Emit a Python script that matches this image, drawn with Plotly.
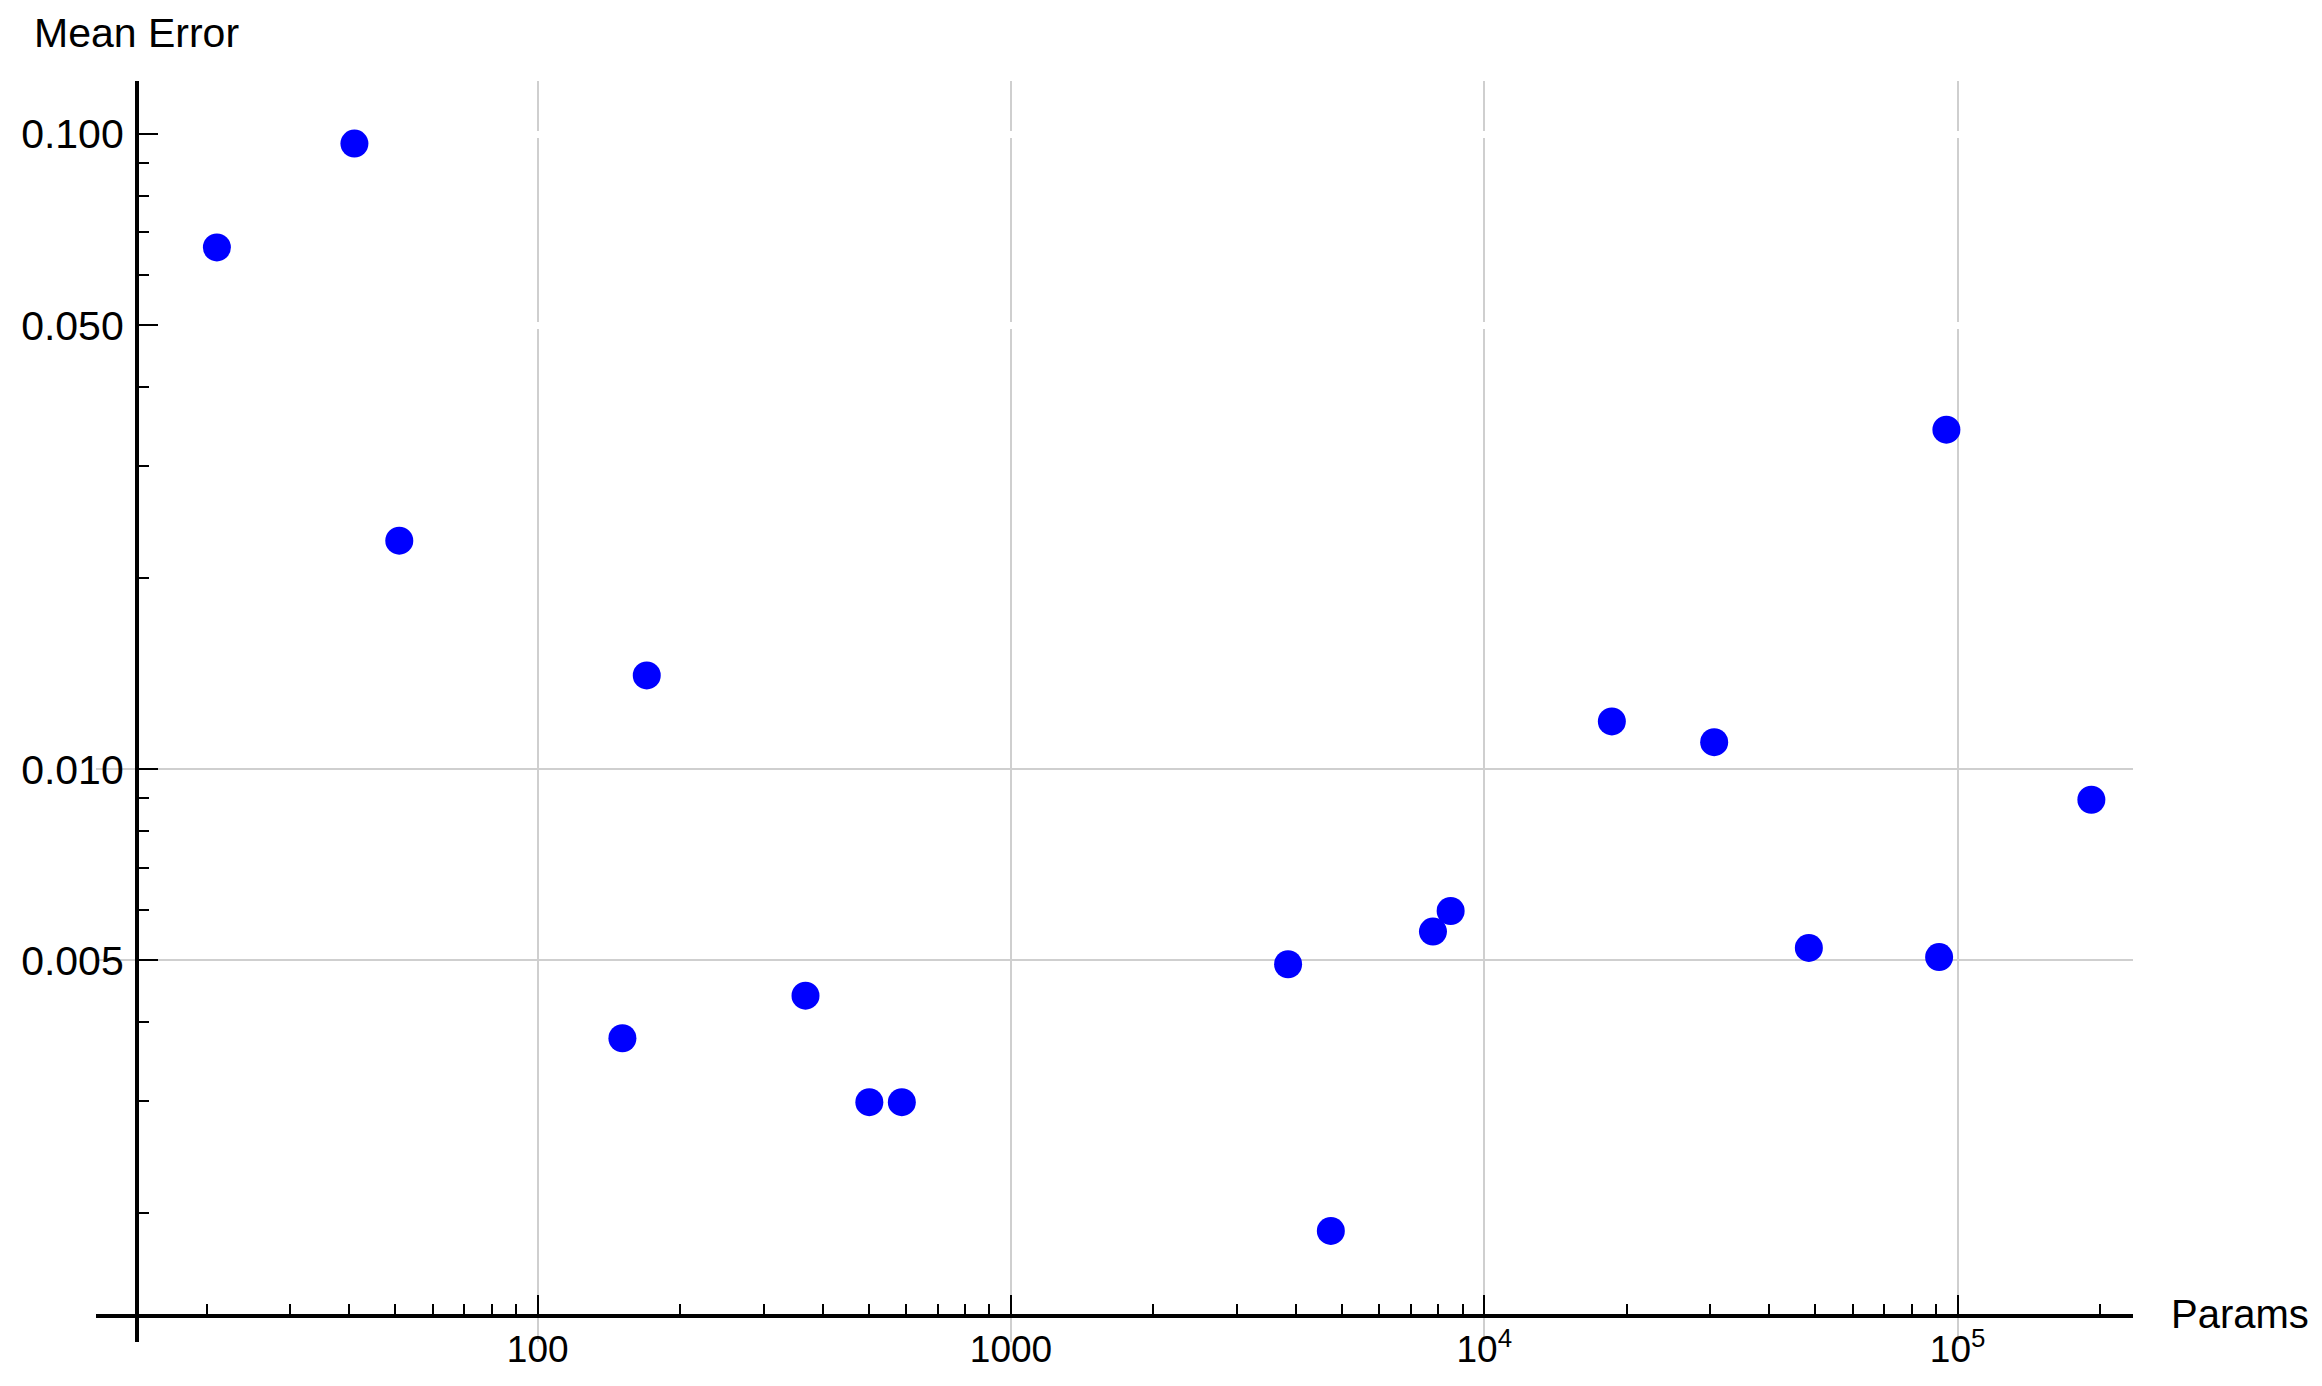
import plotly.graph_objects as go

# Data
params = [21, 41, 51, 170, 151, 368, 502, 588, 3850, 4740, 7790, 8490,
          18600, 30600, 48500, 91400, 94700, 191700]
mean_error = [0.0663, 0.0966, 0.0229, 0.01405, 0.00377, 0.00440, 0.00299, 0.00299,
              0.00493, 0.001875, 0.00555, 0.00598, 0.01189, 0.01103, 0.00523,
              0.00506, 0.03424, 0.00895]

x_tickvals = [100, 1000, 10000, 100000]
x_ticktext = ["100", "1000", "10<sup>4</sup>", "10<sup>5</sup>"]
y_tickvals = [0.1, 0.05, 0.01, 0.005]
y_ticktext = ["0.100", "0.050", "0.010", "0.005"]
y_white_grid = [0.1, 0.05]   # levels where the grid shows as white gaps

FONT = "Liberation Sans, Arial, sans-serif"

fig = go.Figure()
fig.add_trace(go.Scatter(
    x=params, y=mean_error, mode="markers",
    marker=dict(size=28, color="#0000ff", line=dict(width=0)),
    showlegend=False, hoverinfo="x+y",
))
# invisible helper trace so the overlay y axis (white grid gaps) is drawn
fig.add_trace(go.Scatter(x=[], y=[], yaxis="y2", showlegend=False, hoverinfo="skip"))

W, H = 2322, 1386
L, R, T, B = 96, 2322 - 2133, 81, 1386 - 1342
YRANGE = [-2.9019, -0.9165]

fig.update_layout(
    width=W, height=H,
    margin=dict(l=L, r=R, t=T, b=B, autoexpand=False),
    paper_bgcolor="white", plot_bgcolor="white",
    font=dict(family=FONT, size=40, color="black"),
    xaxis=dict(
        type="log", range=[1.0668, 5.3706],
        anchor="free", position=0.0206, automargin=False,
        showline=True, linecolor="black", linewidth=4,
        ticks="inside", ticklen=19, tickwidth=1.5, tickcolor="black",
        tickvals=x_tickvals, ticktext=x_ticktext,
        tickfont=dict(family=FONT, size=37, color="black"),
        showgrid=True, gridcolor="#cfcfcf", gridwidth=1.5,
        minor=dict(ticks="inside", ticklen=10, tickwidth=1.5, tickcolor="black",
                   dtick="D1", showgrid=False),
        zeroline=False,
    ),
    yaxis=dict(
        type="log", range=YRANGE,
        anchor="free", position=0.0201, automargin=False,
        showline=True, linecolor="black", linewidth=4,
        ticks="inside", ticklen=19, tickwidth=1.5, tickcolor="black",
        tickvals=y_tickvals, ticktext=y_ticktext,
        tickfont=dict(family=FONT, size=41, color="black"),
        ticklabelstandoff=3,
        showgrid=True, gridcolor="#cfcfcf", gridwidth=1.5,
        minor=dict(ticks="inside", ticklen=10, tickwidth=1.5, tickcolor="black",
                   dtick="D1", showgrid=False),
        zeroline=False,
    ),
    yaxis2=dict(
        type="log", range=YRANGE, overlaying="y", anchor="free", position=0.0201,
        automargin=False, showline=False, ticks="", showticklabels=False,
        tickvals=y_white_grid, showgrid=True, gridcolor="white", gridwidth=7,
        zeroline=False, fixedrange=True,
    ),
    annotations=[
        dict(text="Mean Error", xref="paper", yref="paper",
             x=(32 - L) / (2133 - L), y=1 + (81 - 33) / (1342 - 81),
             xanchor="left", yanchor="middle", showarrow=False,
             font=dict(family=FONT, size=41, color="black")),
        dict(text="Params", xref="paper", yref="paper",
             x=(2169 - L) / (2133 - L), y=(1342 - 1314) / (1342 - 81),
             xanchor="left", yanchor="middle", showarrow=False,
             font=dict(family=FONT, size=40, color="black")),
    ],
)

fig.write_html("out.html", config={"displayModeBar": False},
               post_script="document.body.style.margin='0';")
